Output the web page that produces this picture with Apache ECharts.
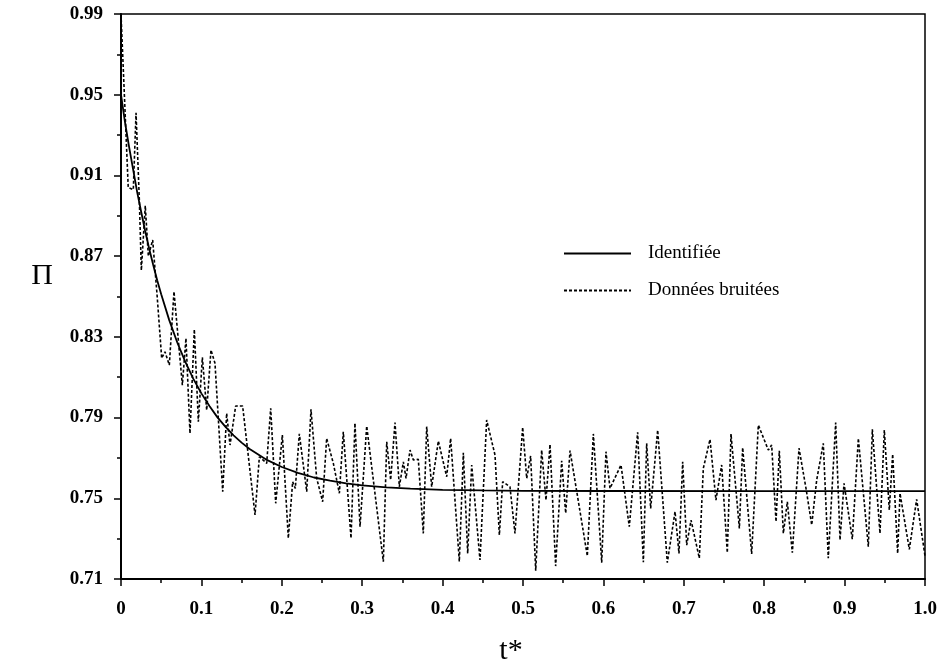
<!DOCTYPE html>
<html>
<head>
<meta charset="utf-8">
<title>Π(t*) : identifiée et données bruitées</title>
<script src="https://cdn.jsdelivr.net/npm/echarts@6/dist/echarts.min.js"></script>
<style>
  html, body { margin: 0; padding: 0; background: #fff; }
  #chart { width: 937px; height: 666px; }
</style>
</head>
<body>
<div id="chart"></div>
<script>
// Identified (fitted) response
const fitT = [0, 0.005, 0.01, 0.015, 0.02, 0.025, 0.03, 0.035, 0.04, 0.045, 0.05,
              0.06, 0.07, 0.08, 0.09, 0.10, 0.11, 0.12, 0.13, 0.14, 0.15,
              0.16, 0.18, 0.20, 0.22, 0.24, 0.26, 0.28, 0.30, 0.33, 0.36,
              0.40, 0.45, 0.50, 0.60, 0.80, 1.00];
const fitV = [0.9500, 0.9363, 0.9243, 0.9131, 0.9020, 0.8921, 0.8826, 0.8738, 0.8657, 0.8581, 0.8511,
              0.8383, 0.8272, 0.8176, 0.8092, 0.8020, 0.7957, 0.7901, 0.7854, 0.7812, 0.7776,
              0.7744, 0.7693, 0.7655, 0.7626, 0.7603, 0.7587, 0.7574, 0.7564, 0.7554, 0.7548,
              0.7542, 0.7539, 0.7537, 0.7536, 0.7535, 0.7535];

// Noisy measurements
const noisyT = [0.000, 0.009, 0.0153, 0.0187, 0.0228, 0.0253, 0.0302, 0.0340, 0.0394, 0.0450,
  0.0506, 0.0547, 0.0601, 0.0659, 0.0763, 0.0808, 0.0858, 0.0912, 0.0962, 0.1012,
  0.1066, 0.1119, 0.1169, 0.1265, 0.1314, 0.1356, 0.1426, 0.1513, 0.1667, 0.1721,
  0.1812, 0.1862, 0.1924, 0.2007, 0.2081, 0.2135, 0.2168, 0.2218, 0.2310, 0.2363,
  0.2434, 0.2508, 0.2558, 0.2641, 0.2716, 0.2765, 0.2861, 0.2910, 0.2973, 0.3056,
  0.3263, 0.3305, 0.3354, 0.3408, 0.3462, 0.3512, 0.3545, 0.3595, 0.3636, 0.3698,
  0.3760, 0.3802, 0.3864, 0.3947, 0.4051, 0.4100, 0.4208, 0.4258, 0.4312, 0.4362,
  0.4465, 0.4548, 0.4652, 0.4706, 0.4747, 0.4838, 0.4900, 0.4996, 0.5046, 0.5095,
  0.5158, 0.5232, 0.5286, 0.5336, 0.5406, 0.5481, 0.5531, 0.5585, 0.5800, 0.5875,
  0.5979, 0.6032, 0.6082, 0.6219, 0.6322, 0.6426, 0.6497, 0.6538, 0.6588, 0.6675,
  0.6795, 0.6891, 0.6940, 0.6986, 0.7036, 0.7090, 0.7193, 0.7243, 0.7326, 0.7400,
  0.7471, 0.7541, 0.7587, 0.7691, 0.7732, 0.7844, 0.7927, 0.8051, 0.8093, 0.8147,
  0.8188, 0.8238, 0.8288, 0.8350, 0.8433, 0.8520, 0.8591, 0.8653, 0.8735, 0.8797,
  0.8889, 0.8943, 0.8993, 0.9096, 0.9171, 0.9295, 0.9345, 0.9440, 0.9494, 0.9556,
  0.9598, 0.9660, 0.9689, 0.9805, 0.9896, 1.000];
const noisyV = [0.990, 0.904, 0.903, 0.941, 0.898, 0.863, 0.895, 0.870, 0.878, 0.850,
  0.8194, 0.8226, 0.8160, 0.8524, 0.8061, 0.8293, 0.7822, 0.8337, 0.7880, 0.8199,
  0.7937, 0.8235, 0.8169, 0.7533, 0.7921, 0.7764, 0.7957, 0.7957, 0.7417, 0.7706,
  0.7673, 0.7946, 0.7475, 0.7814, 0.7302, 0.7582, 0.7549, 0.7819, 0.7533, 0.7941,
  0.7599, 0.7483, 0.7797, 0.7673, 0.7525, 0.7830, 0.7302, 0.7872, 0.7359, 0.7858,
  0.7186, 0.7780, 0.7591, 0.7875, 0.7557, 0.7681, 0.7599, 0.7739, 0.7690, 0.7693,
  0.7326, 0.7855, 0.7557, 0.7784, 0.7607, 0.7797, 0.7186, 0.7726, 0.7227, 0.7665,
  0.7194, 0.7888, 0.7714, 0.7318, 0.7582, 0.7557, 0.7326, 0.7852, 0.7599, 0.7710,
  0.7141, 0.7739, 0.7491, 0.7767, 0.7164, 0.7686, 0.7426, 0.7736, 0.7214, 0.7819,
  0.7181, 0.7731, 0.7549, 0.7665, 0.7359, 0.7827, 0.7183, 0.7772, 0.7450, 0.7838,
  0.7181, 0.7434, 0.7227, 0.7681, 0.7268, 0.7392, 0.7203, 0.7649, 0.7792, 0.7491,
  0.7665, 0.7230, 0.7819, 0.7351, 0.7751, 0.7224, 0.7863, 0.7739, 0.7764, 0.7384,
  0.7736, 0.7326, 0.7483, 0.7230, 0.7748, 0.7549, 0.7368, 0.7591, 0.7772, 0.7203,
  0.7875, 0.7293, 0.7574, 0.7297, 0.7797, 0.7260, 0.7842, 0.7326, 0.7838, 0.7442,
  0.7719, 0.7227, 0.7525, 0.7247, 0.7495, 0.7214];

// Axis ticks
const xTickLabels = ['0', '0.1', '0.2', '0.3', '0.4', '0.5', '0.6', '0.7', '0.8', '0.9', '1.0'];
const yTickLabels = ['0.71', '0.75', '0.79', '0.83', '0.87', '0.91', '0.95', '0.99'];
const xRange = [0, 1];
const xStep = 0.1;
const yRange = [0.71, 0.99];
const yStep = 0.04;

const seriesNames = ['Identifiée', 'Données bruitées'];

const FONT = '"Liberation Serif", "Times New Roman", serif';

const pairs = (ts, vs) => ts.map((t, i) => [t, vs[i]]);

const chart = echarts.init(document.getElementById('chart'), null, { renderer: 'canvas' });

chart.setOption({
  animation: false,
  backgroundColor: '#ffffff',
  grid: {
    left: 121, right: 12, top: 14, bottom: 87,
    outerBoundsMode: 'none',
    containLabel: false,
    show: true, borderColor: '#000', borderWidth: 1.5, backgroundColor: 'transparent'
  },
  legend: {
    data: seriesNames,
    orient: 'vertical',
    left: 563,
    top: 244,
    padding: 0,
    itemWidth: 67,
    itemHeight: 20,
    itemGap: 18,
    itemStyle: { opacity: 0 },
    textStyle: { fontFamily: FONT, fontSize: 19, color: '#000', padding: [0, 0, 0, 12] }
  },
  xAxis: {
    type: 'value',
    min: xRange[0], max: xRange[1], interval: xStep,
    name: 't*',
    nameLocation: 'middle',
    nameGap: 57,
    nameTextStyle: { fontFamily: FONT, fontSize: 30, color: '#000', padding: [0, 24, 0, 0] },
    axisLine: { show: true, onZero: false, lineStyle: { color: '#000', width: 2 } },
    axisTick: { show: true, length: 7, lineStyle: { color: '#000', width: 1.5 } },
    minorTick: { show: true, splitNumber: 2, length: 4, lineStyle: { color: '#000', width: 1.5 } },
    splitLine: { show: false },
    minorSplitLine: { show: false },
    axisLabel: {
      margin: 21,
      fontFamily: FONT, fontSize: 19, fontWeight: 'bold', color: '#000',
      formatter: v => xTickLabels[Math.round((v - xRange[0]) / xStep)]
    }
  },
  yAxis: {
    type: 'value',
    min: yRange[0], max: yRange[1], interval: yStep,
    name: 'Π',
    nameLocation: 'middle',
    nameGap: 68,
    nameRotate: 0,
    nameTextStyle: { fontFamily: FONT, fontSize: 30, color: '#000', verticalAlign: 'bottom', lineHeight: 40 },
    axisLine: { show: true, onZero: false, lineStyle: { color: '#000', width: 2 } },
    axisTick: { show: true, length: 7, lineStyle: { color: '#000', width: 1.5 } },
    minorTick: { show: true, splitNumber: 2, length: 4, lineStyle: { color: '#000', width: 1.5 } },
    splitLine: { show: false },
    minorSplitLine: { show: false },
    axisLabel: {
      margin: 18,
      fontFamily: FONT, fontSize: 19, fontWeight: 'bold', color: '#000',
      formatter: v => yTickLabels[Math.round((v - yRange[0]) / yStep)]
    }
  },
  series: [
    {
      name: seriesNames[0],
      type: 'line',
      data: pairs(fitT, fitV),
      symbol: 'none',
      smooth: false,
      z: 3,
      lineStyle: { color: '#000', width: 1.8, type: 'solid' },
      itemStyle: { color: '#000' }
    },
    {
      name: seriesNames[1],
      type: 'line',
      data: pairs(noisyT, noisyV),
      symbol: 'none',
      z: 2,
      lineStyle: { color: '#000', width: 1.6, type: [3, 2] },
      itemStyle: { color: '#000' }
    }
  ]
});
</script>
</body>
</html>
